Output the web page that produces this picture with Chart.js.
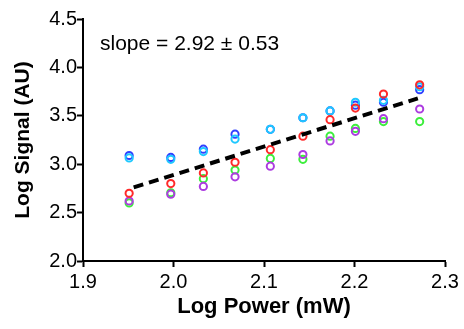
<!DOCTYPE html>
<html>
<head>
<meta charset="utf-8">
<script src="https://cdn.jsdelivr.net/npm/chart.js@4"></script>
<style>
  html, body { margin: 0; padding: 0; background: #fff; }
  #wrap { width: 464px; height: 329px; }
</style>
</head>
<body>
<div id="wrap"><canvas id="powerChart"></canvas></div>
<script>
// x values (log power, mW)
const logPower = [1.951, 1.997, 2.033, 2.068, 2.107, 2.143, 2.173, 2.201, 2.232, 2.272];

// log signal for each cell / trace
const redSeries    = [2.70, 2.80, 2.91, 3.02, 3.15, 3.29, 3.46, 3.58, 3.725, 3.82];
const cyanSeries   = [3.065, 3.05, 3.13, 3.26, 3.36, 3.48, 3.55, 3.64, 3.66, 3.80];
const blueSeries   = [3.09, 3.07, 3.155, 3.31, 3.36, 3.48, 3.55, 3.61, 3.64, 3.77];
const purpleSeries = [2.62, 2.69, 2.77, 2.87, 2.98, 3.10, 3.24, 3.34, 3.47, 3.57];
const greenSeries  = [2.60, 2.705, 2.85, 2.94, 3.06, 3.05, 3.29, 3.37, 3.44, 3.44];

// fitted line (ends)
const fitX = [1.956, 2.270];
const fitY = [2.76, 3.68];

const xTicks = [1.9, 2.0, 2.1, 2.2, 2.3];
const yTicks = [2.0, 2.5, 3.0, 3.5, 4.0, 4.5];
const slopeText = 'slope = 2.92 \u00b1 0.53';

const FONT = '"Liberation Sans", Arial, sans-serif';

function toPoints(xs, ys) {
    return xs.map((x, i) => ({ x: x, y: ys[i] }));
}

function ring(label, ys, color) {
    return {
        type: 'scatter',
        label: label,
        data: toPoints(logPower, ys),
        borderColor: color,
        backgroundColor: 'rgba(0,0,0,0)',
        pointRadius: 3.6,
        pointBorderWidth: 2,
        showLine: false
    };
}

// slope note at top left of plot
const slopeNote = {
    id: 'slopeNote',
    afterDraw(chart) {
        const ctx = chart.ctx;
        ctx.save();
        ctx.font = '21px ' + FONT;
        ctx.fillStyle = '#000';
        ctx.textBaseline = 'alphabetic';
        ctx.fillText(slopeText, 100, 50);
        ctx.restore();
    }
};

new Chart(document.getElementById('powerChart'), {
    data: {
        datasets: [
            {
                type: 'line',
                label: 'fit',
                data: toPoints(fitX, fitY),
                borderColor: '#000',
                borderWidth: 4,
                borderDash: [10, 6],
                pointRadius: 0,
                fill: false
            },
            ring('red', redSeries, '#ff2a2a'),
            ring('cyan', cyanSeries, '#1ec8ff'),
            ring('blue', blueSeries, '#3040ff'),
            ring('purple', purpleSeries, '#ac3ce0'),
            ring('green', greenSeries, '#3cee3c')
        ]
    },
    options: {
        responsive: true,
        maintainAspectRatio: false,
        animation: false,
        layout: { padding: { top: 19, right: 19, left: 0, bottom: 0 } },
        plugins: {
            legend: { display: false },
            tooltip: { enabled: false }
        },
        scales: {
            x: {
                type: 'linear',
                min: 1.9,
                max: 2.3,
                afterFit: (s) => { s.height = 68; },
                afterBuildTicks: (s) => { s.ticks = xTicks.map(v => ({ value: v })); },
                border: { display: true, color: '#000', width: 2 },
                grid: { drawOnChartArea: false, drawTicks: true, tickLength: 6, tickWidth: 2, tickColor: '#000' },
                ticks: {
                    color: '#000',
                    padding: 3,
                    maxRotation: 0,
                    font: { family: FONT, size: 20 },
                    callback: (v) => Number(v).toFixed(1)
                },
                title: {
                    display: true,
                    text: 'Log Power (mW)',
                    color: '#000',
                    font: { family: FONT, size: 22, weight: 'bold' },
                    padding: { top: 0, bottom: 9 }
                }
            },
            y: {
                type: 'linear',
                min: 2.0,
                max: 4.5,
                afterFit: (s) => { s.width = 83; },
                afterBuildTicks: (s) => { s.ticks = yTicks.map(v => ({ value: v })); },
                border: { display: true, color: '#000', width: 2 },
                grid: { drawOnChartArea: false, drawTicks: true, tickLength: 6, tickWidth: 2, tickColor: '#000' },
                ticks: {
                    color: '#000',
                    padding: 0,
                    font: { family: FONT, size: 20 },
                    callback: (v) => Number(v).toFixed(1)
                },
                title: {
                    display: true,
                    text: 'Log Signal (AU)',
                    color: '#000',
                    font: { family: FONT, size: 21, weight: 'bold' },
                    padding: { top: 11, bottom: 0 }
                }
            }
        }
    },
    plugins: [slopeNote]
});
</script>
</body>
</html>
